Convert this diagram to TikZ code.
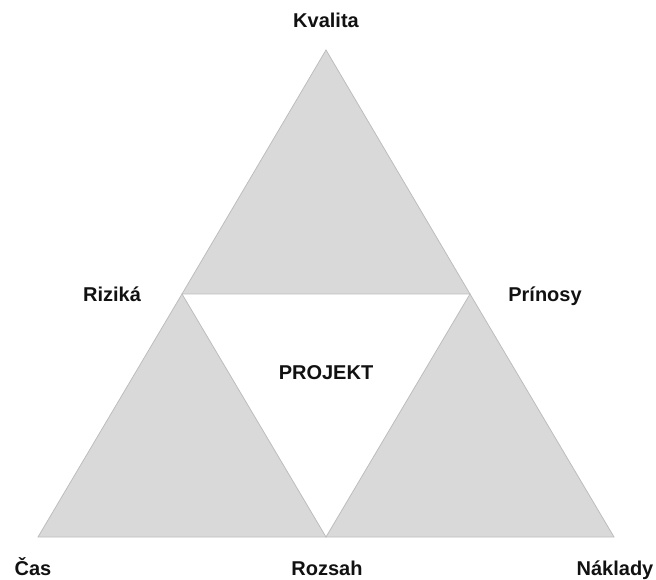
\documentclass[tikz,border=0pt]{standalone}
\usepackage{fontspec}
\setmainfont{Liberation Sans}
\usepackage{xcolor}
\usetikzlibrary{positioning}
\definecolor{ink}{HTML}{111111}
\definecolor{wedge}{HTML}{D9D9D9}
\definecolor{edge}{HTML}{BDBDBD}
\tikzset{
  part/.style={draw=edge,fill=wedge,line width=0.6pt,line join=miter},
  label/.style={anchor=base,inner sep=0pt,font=\fontsize{15}{18}\selectfont\bfseries,text=ink}
}
\begin{document}
\begin{tikzpicture}[x=0.75pt,y=-0.75pt]
  \useasboundingbox (0,0) rectangle (656,580);
  % corner points of the big triangle and its side midpoints
  \coordinate (top) at (326,50);
  \coordinate (bl) at (38,537);
  \coordinate (br) at (614,537);
  \coordinate (ml) at (182,294);
  \coordinate (mr) at (470,294);
  \coordinate (mb) at (326,537);

  \fill[white] (ml) -- (mr) -- (mb) -- cycle;
  \draw[part] (top) -- (mr) -- (ml) -- cycle;
  \draw[part] (ml) -- (mb) -- (bl) -- cycle;
  \draw[part] (mr) -- (br) -- (mb) -- cycle;

  \node[label] (kvalita) at (326,28) {Kvalita};
  \node[label] (riziko) at (112,302) {Riziká};
  \node[label] (prinosy) at (545,302) {Prínosy};
  \node[label] (projekt) at (326,380) {PROJEKT};
  \node[label] (cas) at (33,575) {Čas};
  \node[label] (rozsah) at (327,575) {Rozsah};
  \node[label] (naklady) at (615,575) {Náklady};
\end{tikzpicture}
\end{document}
